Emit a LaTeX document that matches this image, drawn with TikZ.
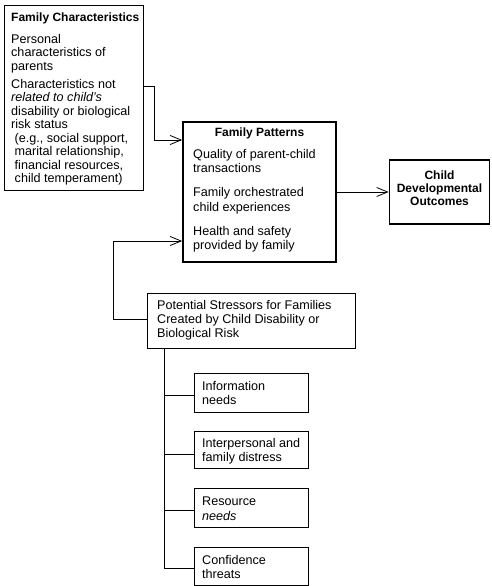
\documentclass[tikz,border=0pt]{standalone}
\usepackage{fontspec}
\setmainfont{Liberation Sans}
\usetikzlibrary{arrows.meta}
\begin{document}
\begin{tikzpicture}[x=1pt,y=-1pt,
  box/.style={draw,line width=0.8pt,inner sep=0pt,rectangle},
  bigbox/.style={draw,line width=1.6pt,inner sep=0pt,rectangle},
  txt/.style={inner sep=0pt,anchor=north west,align=left,font=\fontsize{12.6}{14}\selectfont},
  ctxt/.style={inner sep=0pt,align=center,font=\fontsize{12}{13}\selectfont\bfseries},
  conn/.style={line width=0.8pt},
  arr/.style={line width=0.8pt,-{Straight Barb[length=11pt,width=9pt,line width=0.8pt]}}]
\useasboundingbox (0,0) rectangle (491,586);
% boxes
\node[box,minimum width=139pt,minimum height=185pt] (FC) at (73.5,97.5) {};
\node[bigbox,minimum width=153pt,minimum height=140pt] (FP) at (259.5,192) {};
\node[bigbox,minimum width=100pt,minimum height=64pt] (CDO) at (439.5,192) {};
\node[box,minimum width=208pt,minimum height=55pt] (ST) at (251,320.5) {};
\node[box,minimum width=114pt,minimum height=39pt] (B1) at (251,392.5) {};
\node[box,minimum width=114pt,minimum height=37pt] (B2) at (251,449.5) {};
\node[box,minimum width=114pt,minimum height=39pt] (B3) at (251,507.5) {};
\node[box,minimum width=114pt,minimum height=38pt] (B4) at (251,566.5) {};
% texts
\node[txt,font=\fontsize{12.6}{13.5}\selectfont] (tFC) at (11,12.5) {{\fontsize{12}{13}\selectfont\textbf{Family Characteristics}}\\[8.5pt]
 Personal\\characteristics of\\parents\\[4.5pt]
 Characteristics not\\\textit{related to child's}\\disability or biological\\risk status\\
 \ (e.g., social support,\\ \ marital relationship,\\ \ financial resources,\\ \ child temperament)};
\node[ctxt] (tFPh) at (259.5,133) {Family Patterns};
\node[txt,font=\fontsize{12.6}{14.5}\selectfont] (tFP) at (193,149) {Quality of parent-child\\transactions\\[9.5pt]
 Family orchestrated\\child experiences\\[9.5pt]
 Health and safety\\provided by family};
\node[ctxt] (tCDO) at (439.5,188) {Child\\Developmental\\Outcomes};
\node[txt] (tST) at (157,300.5) {Potential Stressors for Families\\Created by Child Disability or\\Biological Risk};
\node[txt,font=\fontsize{12.6}{14.5}\selectfont] (t1) at (202,381) {Information\\needs};
\node[txt,font=\fontsize{12.6}{14.5}\selectfont] (t2) at (202,438) {Interpersonal and\\family distress};
\node[txt,font=\fontsize{12.6}{14.5}\selectfont] (t3) at (202,497) {Resource\\\textit{needs}};
\node[txt,font=\fontsize{12.6}{14.5}\selectfont] (t4) at (202,555) {Confidence\\threats};
% connectors
\coordinate (k1) at (154,86);
\coordinate (k2) at (154,140);
\draw[arr] (FC.east |- k1) -- (k1) -- (k2) -- (FP.west |- k2);
\draw[arr] (FP) -- (CDO);
\coordinate (k3) at (113,319);
\coordinate (k4) at (113,241);
\draw[arr] (ST.west |- k3) -- (k3) -- (k4) -- (FP.west |- k4);
\coordinate (t0) at (164,348);
\coordinate (y1) at (0,395);
\coordinate (y2) at (0,454);
\coordinate (y3) at (0,510);
\coordinate (y4) at (0,568);
\draw[conn] (ST.south -| t0) -- (t0 |- y4) -- (B4.west |- y4);
\draw[conn] (t0 |- y1) -- (B1.west |- y1);
\draw[conn] (t0 |- y2) -- (B2.west |- y2);
\draw[conn] (t0 |- y3) -- (B3.west |- y3);
\end{tikzpicture}
\end{document}
